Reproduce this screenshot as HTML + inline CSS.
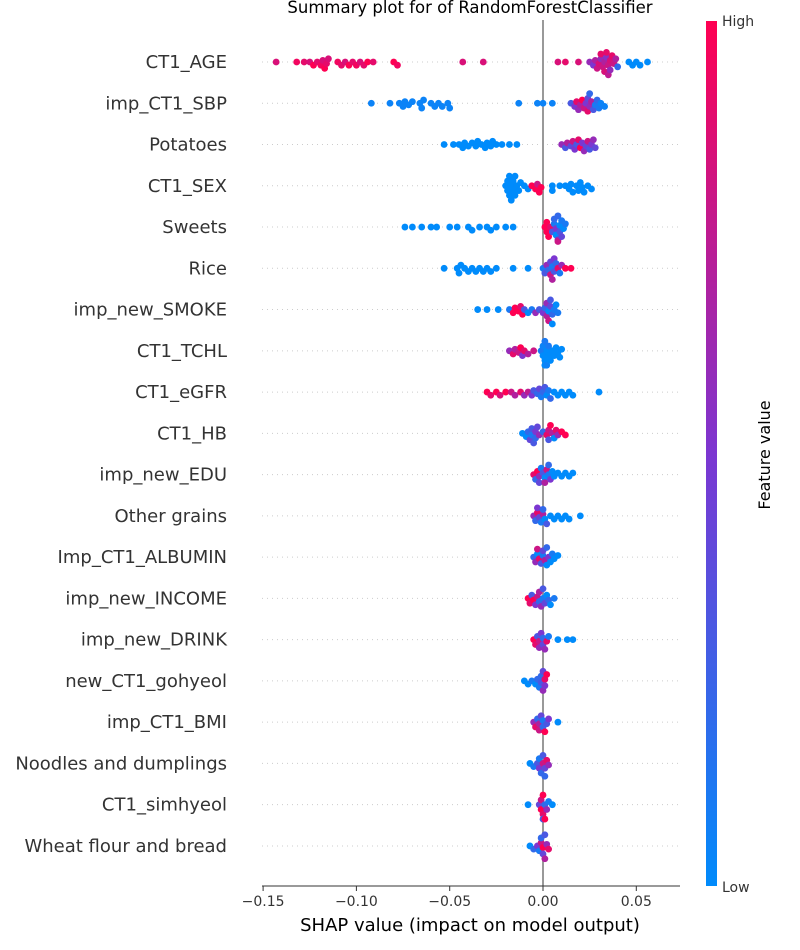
<!DOCTYPE html>
<html><head><meta charset="utf-8">
<style>
html,body{margin:0;padding:0;background:#fff;}
svg{display:block;font-family:"DejaVu Sans","Liberation Sans",sans-serif;}
</style></head>
<body>
<svg id="chart" width="800" height="950" viewBox="0 0 800 950">
<defs>
<linearGradient id="cbar" x1="0" y1="1" x2="0" y2="0">
<stop offset="0" stop-color="#008bfb"/>
<stop offset="0.5" stop-color="#7c36d1"/>
<stop offset="1" stop-color="#ff0052"/>
</linearGradient>
</defs>
<text x="470" y="13" text-anchor="middle" font-size="16.5" fill="#000">Summary plot for of RandomForestClassifier</text>
<g id="grid"></g>
<g id="dots"></g>
<g id="axis"></g>
<rect x="706" y="21" width="11" height="865" fill="url(#cbar)"/>
<text x="722" y="26" font-size="14" fill="#333">High</text>
<text x="722" y="892" font-size="14" fill="#333">Low</text>
<text x="770" y="455" font-size="16" fill="#000" text-anchor="middle" transform="rotate(-90 770 455)">Feature value</text>
<text x="470" y="931" font-size="18" fill="#000" text-anchor="middle">SHAP value (impact on model output)</text>
</svg>
<script>
const features = ["CT1_AGE","imp_CT1_SBP","Potatoes","CT1_SEX","Sweets","Rice","imp_new_SMOKE","CT1_TCHL","CT1_eGFR","CT1_HB","imp_new_EDU","Other grains","Imp_CT1_ALBUMIN","imp_new_INCOME","imp_new_DRINK","new_CT1_gohyeol","imp_CT1_BMI","Noodles and dumplings","CT1_simhyeol","Wheat flour and bread"];
const xTicks = [-0.15,-0.10,-0.05,0.00,0.05];
const xTickLabels = ["\u22120.15","\u22120.10","\u22120.05","0.00","0.05"];
const shapAGE = [-0.143,-0.132,-0.128,-0.125,-0.123,-0.121,-0.119,-0.118,-0.117,-0.116,-0.115,-0.11,-0.108,-0.106,-0.104,-0.102,-0.1,-0.098,-0.096,-0.094,-0.091,-0.08,-0.078,-0.043,-0.032,0.008,0.012,0.019,0.025,0.027,0.028,0.029,0.03,0.031,0.031,0.032,0.033,0.033,0.034,0.034,0.035,0.035,0.036,0.036,0.037,0.038,0.039,0.04,0.046,0.048,0.05,0.052,0.056];
const featAGE = [0.85,0.95,0.9,0.85,1,0.9,0.95,0.85,1,0.9,0.85,0.95,0.9,0.85,1,0.9,0.95,0.85,0.9,1,0.9,1,0.95,0.85,0.85,0.85,0.9,0.85,0.6,0.5,0.7,0.8,0.85,0.6,0.9,0.8,0.7,0.85,0.55,0.9,0.8,0.75,0.85,0.6,0.9,0.8,0.7,0.2,0,0,0,0,0];
const shapSBP = [-0.092,-0.082,-0.077,-0.075,-0.074,-0.072,-0.07,-0.066,-0.065,-0.064,-0.06,-0.058,-0.056,-0.054,-0.051,-0.05,-0.013,-0.003,0,0.005,0.015,0.017,0.018,0.019,0.02,0.021,0.022,0.023,0.024,0.024,0.025,0.025,0.026,0.027,0.028,0.029,0.03,0.031,0.033];
const featSBP = [0.05,0.05,0.05,0.05,0.05,0.05,0.05,0.05,0.05,0.05,0.05,0.05,0.05,0.05,0.05,0.05,0.05,0.05,0.05,0.05,0.3,0.5,0.9,0.6,0.7,1,0.8,0.5,0.4,0.9,0.6,0.2,0.7,0.3,0.1,0.2,0.1,0.05,0.05];
const shapPOT = [-0.053,-0.048,-0.045,-0.043,-0.042,-0.04,-0.038,-0.036,-0.035,-0.033,-0.031,-0.03,-0.028,-0.027,-0.025,-0.022,-0.018,-0.014,0.01,0.012,0.013,0.015,0.016,0.017,0.018,0.019,0.02,0.021,0.022,0.023,0.024,0.025,0.026,0.027,0.028];
const featPOT = [0,0,0,0,0,0,0,0,0,0,0,0,0,0,0,0,0,0,0.6,0.3,0.7,0.4,0.8,0.5,0.3,0.9,1,0.5,0.6,0.4,0.8,0.3,0.5,0.6,0.4];
const shapSEX = [-0.02,-0.019,-0.019,-0.018,-0.018,-0.017,-0.017,-0.016,-0.016,-0.015,-0.015,-0.014,-0.013,-0.012,-0.01,-0.008,-0.006,-0.004,-0.003,-0.002,-0.001,0.005,0.005,0.009,0.012,0.014,0.015,0.016,0.018,0.019,0.02,0.021,0.022,0.024,0.026];
const featSEX = [0,0,0,0,0,0,0,0,0,0,0,0,0,0,0,0,1,1,0.8,1,1,0,0,0,0,0,0,0,0,0,0,0,0,0,0];
const shapSWE = [-0.074,-0.07,-0.065,-0.06,-0.057,-0.05,-0.046,-0.04,-0.038,-0.034,-0.03,-0.028,-0.025,-0.02,-0.016,0.001,0.002,0.002,0.003,0.004,0.005,0.006,0.007,0.007,0.008,0.008,0.009,0.009,0.01,0.01,0.011,0.012,0.008,0.006];
const featSWE = [0,0,0,0,0,0,0,0,0,0,0,0,0,0,0,1,1,1,1,0.9,0.3,0.1,0.5,0,0.2,0.6,0,0.3,0.1,0.4,0,0.1,0.8,0.2];
const shapRICE = [-0.053,-0.046,-0.045,-0.044,-0.042,-0.04,-0.038,-0.036,-0.034,-0.032,-0.03,-0.028,-0.025,-0.016,-0.008,0,0.001,0.002,0.003,0.004,0.004,0.005,0.005,0.006,0.006,0.007,0.008,0.009,0.01,0.012,0.015];
const featRICE = [0,0,0,0,0,0,0,0,0,0,0,0,0,0,0,0.1,0.3,0.6,0.2,0.8,0.4,0.1,0.7,0.3,0.5,0.2,0.9,0.1,0.6,1,1];
const shapSMK = [-0.035,-0.03,-0.024,-0.018,-0.016,-0.015,-0.013,-0.012,-0.011,-0.01,-0.008,-0.006,-0.004,-0.002,0,0.001,0.002,0.003,0.004,0.005,0.006,0.007,0.008,0.003,0.004,0.002,0.005];
const featSMK = [0,0,0,0.1,1,1,1,0.9,1,0.3,0,0.1,0.6,0.3,0.5,0.2,0.7,0,0.4,0.2,0.1,0,0.1,0.8,0.3,0.6,0];
const shapTCH = [-0.018,-0.016,-0.015,-0.013,-0.012,-0.011,-0.01,-0.008,-0.005,-0.001,0,0,0.001,0.001,0.002,0.002,0.003,0.004,0.005,0.006,0.007,0.008,0.009,0.01,0.003,0.001];
const featTCH = [0.6,0.9,0.7,0.8,1,0.5,0.9,0.7,0.8,0.1,0,0.05,0,0.1,0,0.05,0,0,0,0,0,0,0,0,0.1,0];
const shapGFR = [-0.03,-0.028,-0.025,-0.023,-0.02,-0.017,-0.015,-0.012,-0.01,-0.008,-0.006,-0.005,-0.003,-0.002,-0.001,0,0.001,0.002,0.003,0.004,0.006,0.008,0.01,0.012,0.014,0.016,0.03];
const featGFR = [1,0.9,1,0.85,1,0.8,0.7,0.9,0.6,0.75,0.5,0.3,0.2,0.4,0.1,0.2,0.3,0,0.1,0.2,0,0,0,0,0,0,0];
const shapHB = [-0.011,-0.009,-0.008,-0.007,-0.006,-0.005,-0.004,-0.004,-0.003,-0.002,0,0.002,0.003,0.004,0.005,0.006,0.007,0.008,0.01,0.012,0.003,-0.006];
const featHB = [0,0,0.2,0.4,0.1,0.3,0.5,0.2,0.4,0.6,0.2,0.9,0.8,1,0.7,0,0.9,0.6,1,1,0.3,0.3];
const shapEDU = [-0.005,-0.004,-0.003,-0.002,-0.001,0,0.001,0.002,0.003,0.004,0.005,0.006,0.008,0.01,0.012,0.014,0.016,-0.002,0.001,0.003];
const featEDU = [0.9,0.2,1,0.6,0.1,0.3,0,0.8,0.1,0.5,0,0,0,0,0,0,0,0.4,0.7,0.2];
const shapOG = [-0.005,-0.004,-0.003,-0.002,-0.001,0,0.001,0.002,0.004,0.006,0.008,0.01,0.012,0.014,0.02,-0.003,0];
const featOG = [0.6,0.2,0.9,0.4,0.1,0.7,0,0.3,0,0,0,0,0,0,0,0.5,0.2];
const shapALB = [-0.005,-0.004,-0.003,-0.002,-0.001,0,0.001,0.002,0.003,0.004,0.005,0.006,0.008,-0.003,0,0.002];
const featALB = [0.2,0.6,0,0.9,0.3,0.1,0.7,0,0.5,0,0.1,0,0,0.8,0.4,0.2];
const shapINC = [-0.008,-0.007,-0.006,-0.005,-0.004,-0.003,-0.002,-0.001,0,0.001,0.002,0.003,0.004,0.006,-0.002,0];
const featINC = [1,0.9,0.3,1,0.5,0.8,0.2,0.6,0.1,0.4,0,0.2,0,0.1,0.7,0.3];
const shapDRK = [-0.005,-0.004,-0.003,-0.002,-0.001,0,0.001,0.002,0.003,0.008,0.013,0.016,-0.002,0];
const featDRK = [1,0.9,0.3,0.8,0.5,0.2,0.6,0.9,0.1,0,0,0,0.6,0.4];
const shapGOH = [-0.01,-0.008,-0.006,-0.004,-0.003,-0.002,-0.001,0,0.001,0.002,0,-0.001,0.001];
const featGOH = [0,0,0.1,0,0.2,0.1,0.3,0.6,0.9,1,0.4,0.2,0.5];
const shapBMI = [-0.005,-0.004,-0.003,-0.002,-0.001,0,0.001,0.002,0.003,0.008,-0.002,0];
const featBMI = [0.6,0.9,0.2,0.7,0.4,0.1,1,0.3,0.5,0,0.8,0.2];
const shapNOO = [-0.007,-0.005,-0.003,-0.002,-0.001,0,0.001,0.002,0.003,-0.002,0,0.001];
const featNOO = [0,0.1,0.3,0.5,0.2,0.8,0.4,0.9,0.6,0.1,0.3,0.2];
const shapSIM = [-0.008,-0.002,-0.001,0,0,0.001,0.002,0.003,0.005,-0.001,0.001,0];
const featSIM = [0,0.4,1,0.9,1,0.2,0.6,0.1,0,0.8,1,0.3];
const shapWHE = [-0.007,-0.005,-0.003,-0.002,-0.001,0,0.001,0.002,0.003,0,-0.001,0.001];
const featWHE = [0,0.2,0.5,0.1,0.8,1,0.3,0.6,0.9,0.4,0.2,0.7];

const shapRows = [shapAGE,shapSBP,shapPOT,shapSEX,shapSWE,shapRICE,shapSMK,shapTCH,shapGFR,shapHB,shapEDU,shapOG,shapALB,shapINC,shapDRK,shapGOH,shapBMI,shapNOO,shapSIM,shapWHE];
const featRows = [featAGE,featSBP,featPOT,featSEX,featSWE,featRICE,featSMK,featTCH,featGFR,featHB,featEDU,featOG,featALB,featINC,featDRK,featGOH,featBMI,featNOO,featSIM,featWHE];

const NS = "http://www.w3.org/2000/svg";
const X0 = 543, XS = 1866;
function xScale(v){ return X0 + v*XS; }
function yRow(i){ return 62 + i*41.26; }
function mix(a,b,t){ return Math.round(a+(b-a)*t); }
function color(f){
  const c0=[0,139,251], c1=[124,54,209], c2=[255,0,82];
  let a,b,t;
  if(f<0.5){a=c0;b=c1;t=f/0.5;} else {a=c1;b=c2;t=(f-0.5)/0.5;}
  return "rgb("+mix(a[0],b[0],t)+","+mix(a[1],b[1],t)+","+mix(a[2],b[2],t)+")";
}
function mk(tag, attrs, parent){
  const el=document.createElementNS(NS,tag);
  for(const k in attrs) el.setAttribute(k,attrs[k]);
  parent.appendChild(el); return el;
}
const grid=document.getElementById("grid"), dots=document.getElementById("dots"), axis=document.getElementById("axis");
const svg=document.getElementById("chart");

features.forEach((name,i)=>{
  const y=yRow(i);
  const gl=mk("line",{x1:262,x2:680,y1:y,y2:y,stroke:"#ccc","stroke-width":1,"stroke-dasharray":"1,4"},grid);
  
  
  const t=mk("text",{x:227,y:y+6,"text-anchor":"end","font-size":18,fill:"#333"},svg);
  t.textContent=name;
  
  
});

const zl=mk("line",{x1:xScale(0),x2:xScale(0),y1:20,y2:886,stroke:"#999","stroke-width":2},grid);



shapRows.forEach((vals,i)=>{
  const y=yRow(i);
  const feats=featRows[i];
  const idx=vals.map((v,k)=>k).sort((a,b)=>vals[a]-vals[b]);
  const placed=[];
  const D=4.2, R2=D*D;
  idx.forEach(k=>{
    const x=xScale(vals[k]);
    let off=0;
    for(let s=0;s<40;s++){
      const cand = s===0?0:(s%2?1:-1)*Math.ceil(s/2)*1.6;
      let ok=true;
      for(const p of placed){ const dx=p[0]-x, dy=p[1]-cand; if(dx*dx+dy*dy<R2){ok=false;break;} }
      if(ok||Math.abs(cand)>14){off=cand;break;}
    }
    placed.push([x,off]);
    const c=mk("circle",{cx:x,cy:y+off,r:3.4,fill:color(feats[k])},dots);
    
    
  });
});

const al=mk("line",{x1:262,x2:680,y1:886,y2:886,stroke:"#333","stroke-width":1},axis);


xTicks.forEach((v,k)=>{
  const x=xScale(v);
  const tk=mk("line",{x1:x,x2:x,y1:886,y2:891,stroke:"#333","stroke-width":1},axis);
  
  
  const tl=mk("text",{x:x,y:906,"text-anchor":"middle","font-size":14,fill:"#333"},axis);
  tl.textContent=xTickLabels[k];
  
  
});
</script>
</body></html>
